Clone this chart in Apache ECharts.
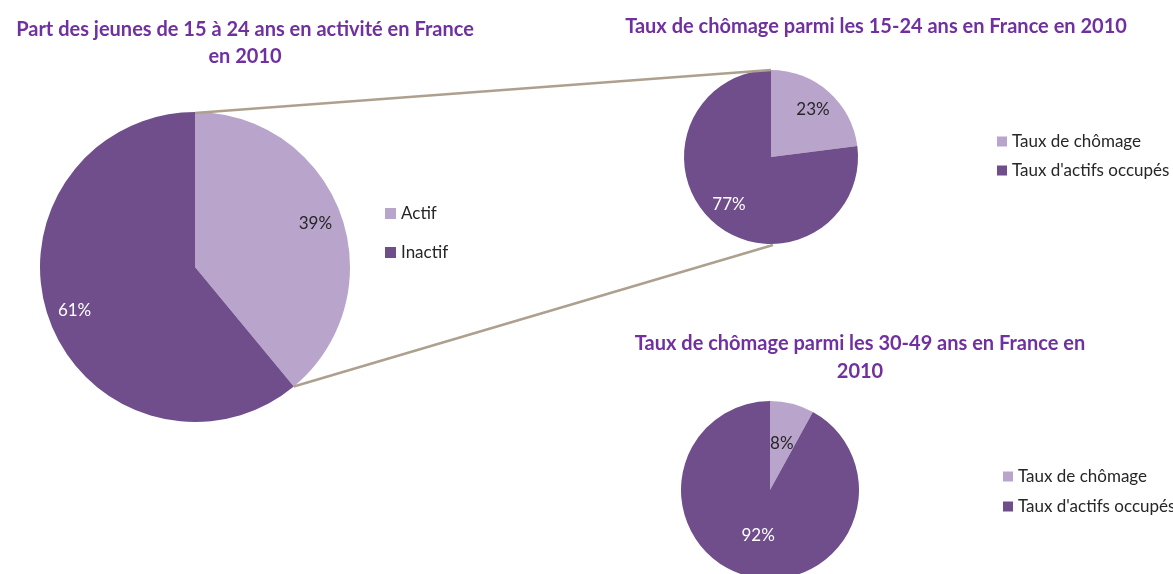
<!DOCTYPE html>
<html>
<head>
<meta charset="utf-8">
<script src="https://cdn.jsdelivr.net/npm/echarts@6/dist/echarts.min.js"></script>
<style>
  html, body { margin: 0; padding: 0; background: #fff; }
  #main { width: 1173px; height: 574px; }
</style>
</head>
<body>
<div id="main"></div>
<script>
// données
const cats1 = ['Actif', 'Inactif']
const vals1 = [39, 61]
const cats2 = ['Taux de chômage', "Taux d'actifs occupés"]
const vals2 = [23, 77]
const cats3 = ['Taux de chômage', "Taux d'actifs occupés"]
const vals3 = [8, 92]

const color = ['#B9A4CB', '#6F4E8B']
const labelColor = ['#262626', '#ffffff']
const font = 'Lato, "Open Sans", sans-serif'

// mise en page des camemberts
const p1 = {c: [195, 267], r: 155, ring: 95}
const p2 = {c: [771, 157], r: 87, ring: 34}
const p3 = {c: [770, 490], r: 89, ring: 0}

function toData(cats, vals) {
  return cats.map((n, i) => ({value: vals[i], name: n, itemStyle: {color: color[i]}}))
}

function pieSeries(cats, vals, p) {
  return [
    {
      type: 'pie',
      center: p.c,
      radius: [0, p.r],
      startAngle: 90,
      clockwise: true,
      silent: true,
      animation: false,
      label: {show: false},
      labelLine: {show: false},
      data: toData(cats, vals)
    },
    {
      // anneau invisible, juste pour placer les étiquettes
      type: 'pie',
      center: p.c,
      radius: [p.ring, p.r],
      startAngle: 90,
      clockwise: true,
      silent: true,
      animation: false,
      legendHoverLink: false,
      labelLine: {show: false},
      data: cats.map((n, i) => ({
        value: vals[i],
        name: n + ' ',
        itemStyle: {color: 'rgba(0,0,0,0)'},
        label: {color: labelColor[i]}
      })),
      label: {
        show: true,
        position: 'inside',
        formatter: '{c}%',
        fontFamily: font,
        fontSize: 17
      }
    }
  ]
}

// lignes de liaison, calculées depuis la part "Actif"
const endAng = vals1[0] / (vals1[0] + vals1[1]) * 2 * Math.PI
const a1 = [p1.c[0], p1.c[1] - p1.r]
const a2 = [p1.c[0] + p1.r * Math.sin(endAng), p1.c[1] - p1.r * Math.cos(endAng)]
const b1 = [p2.c[0], p2.c[1] - p2.r]
const b2 = [p2.c[0] + 2, p2.c[1] + p2.r + 1]
const lineStyle = {stroke: '#ADA08F', lineWidth: 2.5}

const titleStyle = {
  color: '#7030A0',
  fontSize: 20,
  fontWeight: 'bold',
  fontFamily: font,
  lineHeight: 27
}
const legendStyle = {fontSize: 17, color: '#262626', fontFamily: font}

function legendAt(names, left, top, size, gap) {
  return {
    data: names, orient: 'vertical', left: left, top: top,
    itemWidth: size, itemHeight: size, itemGap: gap, icon: 'rect',
    textStyle: legendStyle, selectedMode: false
  }
}

const option = {
  backgroundColor: '#fff',
  title: [
    {text: 'Part des jeunes de 15 à 24 ans en activité en France\nen 2010', left: 240, top: 11, textAlign: 'center', textStyle: titleStyle},
    {text: 'Taux de chômage parmi les 15-24 ans en France en 2010', left: 871, top: 8, textAlign: 'center', textStyle: titleStyle},
    {text: 'Taux de chômage parmi les 30-49 ans en France en\n2010', left: 855, top: 325, textAlign: 'center', textStyle: {...titleStyle, lineHeight: 28}}
  ],
  legend: [
    legendAt(cats1, 380, 200, 11, 22),
    legendAt(cats2, 992, 128, 10, 12),
    legendAt(cats3, 998, 463, 10, 13)
  ],
  graphic: [
    {type: 'line', shape: {x1: a1[0], y1: a1[1] + 1, x2: b1[0], y2: b1[1]}, style: lineStyle, z: 10},
    {type: 'line', shape: {x1: a2[0], y1: a2[1], x2: b2[0], y2: b2[1]}, style: lineStyle, z: 10}
  ],
  series: [
    ...pieSeries(cats1, vals1, p1),
    ...pieSeries(cats2, vals2, p2),
    ...pieSeries(cats3, vals3, p3)
  ]
}

const chart = echarts.init(document.getElementById('main'))
chart.setOption(option)
</script>
</body>
</html>
